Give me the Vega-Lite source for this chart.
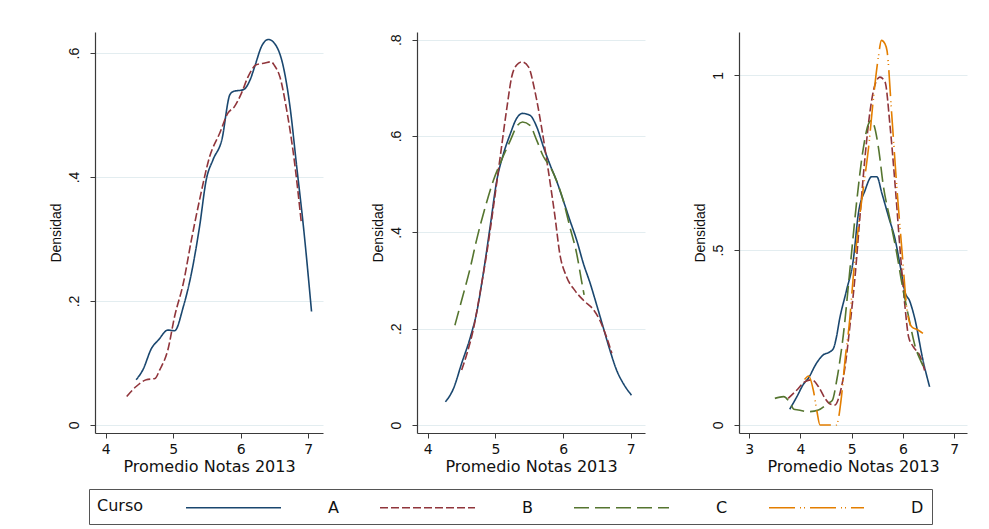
{
  "$schema": "https://vega.github.io/schema/vega-lite/v6.json",
  "background": "white",
  "padding": {"left": 49, "top": 32, "right": 10, "bottom": 5},
  "bounds": "flush",
  "spacing": 94,
  "datasets": {
    "dens": [
      {"panel":1,"curso":"A","nota":4.45,"densidad":0.073},{"panel":1,"curso":"A","nota":4.55,"densidad":0.089},{"panel":1,"curso":"A","nota":4.68,"densidad":0.124},{"panel":1,"curso":"A","nota":4.78,"densidad":0.137},{"panel":1,"curso":"A","nota":4.92,"densidad":0.153},{"panel":1,"curso":"A","nota":5.02,"densidad":0.152},{"panel":1,"curso":"A","nota":5.15,"densidad":0.191},{"panel":1,"curso":"A","nota":5.27,"densidad":0.245},{"panel":1,"curso":"A","nota":5.39,"densidad":0.32},{"panel":1,"curso":"A","nota":5.49,"densidad":0.396},{"panel":1,"curso":"A","nota":5.59,"densidad":0.428},{"panel":1,"curso":"A","nota":5.72,"densidad":0.46},{"panel":1,"curso":"A","nota":5.84,"densidad":0.533},{"panel":1,"curso":"A","nota":5.89,"densidad":0.538},{"panel":1,"curso":"A","nota":6.04,"densidad":0.541},{"panel":1,"curso":"A","nota":6.14,"densidad":0.557},{"panel":1,"curso":"A","nota":6.21,"densidad":0.579},{"panel":1,"curso":"A","nota":6.31,"densidad":0.611},{"panel":1,"curso":"A","nota":6.41,"densidad":0.622},{"panel":1,"curso":"A","nota":6.53,"densidad":0.611},{"panel":1,"curso":"A","nota":6.63,"densidad":0.579},{"panel":1,"curso":"A","nota":6.73,"densidad":0.514},{"panel":1,"curso":"A","nota":6.83,"densidad":0.417},{"panel":1,"curso":"A","nota":6.93,"densidad":0.32},{"panel":1,"curso":"A","nota":7.05,"densidad":0.183},
      {"panel":1,"curso":"B","nota":4.31,"densidad":0.046},{"panel":1,"curso":"B","nota":4.45,"densidad":0.062},{"panel":1,"curso":"B","nota":4.6,"densidad":0.073},{"panel":1,"curso":"B","nota":4.73,"densidad":0.075},{"panel":1,"curso":"B","nota":4.8,"densidad":0.089},{"panel":1,"curso":"B","nota":4.92,"densidad":0.121},{"panel":1,"curso":"B","nota":5.02,"densidad":0.175},{"panel":1,"curso":"B","nota":5.15,"densidad":0.229},{"panel":1,"curso":"B","nota":5.27,"densidad":0.299},{"panel":1,"curso":"B","nota":5.39,"densidad":0.363},{"panel":1,"curso":"B","nota":5.54,"densidad":0.433},{"panel":1,"curso":"B","nota":5.69,"densidad":0.471},{"panel":1,"curso":"B","nota":5.81,"densidad":0.503},{"panel":1,"curso":"B","nota":5.91,"densidad":0.514},{"panel":1,"curso":"B","nota":6.01,"densidad":0.535},{"panel":1,"curso":"B","nota":6.11,"densidad":0.562},{"panel":1,"curso":"B","nota":6.23,"densidad":0.581},{"panel":1,"curso":"B","nota":6.36,"densidad":0.584},{"panel":1,"curso":"B","nota":6.45,"densidad":0.586},{"panel":1,"curso":"B","nota":6.5,"densidad":0.58},{"panel":1,"curso":"B","nota":6.58,"densidad":0.562},{"panel":1,"curso":"B","nota":6.68,"densidad":0.509},{"panel":1,"curso":"B","nota":6.78,"densidad":0.439},{"panel":1,"curso":"B","nota":6.9,"densidad":0.325},
      {"panel":2,"curso":"A","nota":4.26,"densidad":0.048},{"panel":2,"curso":"A","nota":4.38,"densidad":0.076},{"panel":2,"curso":"A","nota":4.5,"densidad":0.128},{"panel":2,"curso":"A","nota":4.63,"densidad":0.183},{"panel":2,"curso":"A","nota":4.72,"densidad":0.232},{"panel":2,"curso":"A","nota":4.82,"densidad":0.315},{"panel":2,"curso":"A","nota":4.92,"densidad":0.411},{"panel":2,"curso":"A","nota":5.02,"densidad":0.508},{"panel":2,"curso":"A","nota":5.12,"densidad":0.564},{"panel":2,"curso":"A","nota":5.22,"densidad":0.605},{"panel":2,"curso":"A","nota":5.31,"densidad":0.636},{"panel":2,"curso":"A","nota":5.4,"densidad":0.647},{"panel":2,"curso":"A","nota":5.51,"densidad":0.643},{"panel":2,"curso":"A","nota":5.61,"densidad":0.619},{"panel":2,"curso":"A","nota":5.71,"densidad":0.577},{"panel":2,"curso":"A","nota":5.81,"densidad":0.539},{"panel":2,"curso":"A","nota":5.9,"densidad":0.508},{"panel":2,"curso":"A","nota":6.0,"densidad":0.467},{"panel":2,"curso":"A","nota":6.1,"densidad":0.425},{"panel":2,"curso":"A","nota":6.2,"densidad":0.384},{"panel":2,"curso":"A","nota":6.3,"densidad":0.335},{"panel":2,"curso":"A","nota":6.4,"densidad":0.294},{"panel":2,"curso":"A","nota":6.49,"densidad":0.252},{"panel":2,"curso":"A","nota":6.59,"densidad":0.204},{"panel":2,"curso":"A","nota":6.69,"densidad":0.156},{"panel":2,"curso":"A","nota":6.79,"densidad":0.114},{"panel":2,"curso":"A","nota":6.89,"densidad":0.086},{"panel":2,"curso":"A","nota":7.01,"densidad":0.062},
      {"panel":2,"curso":"B","nota":4.5,"densidad":0.114},{"panel":2,"curso":"B","nota":4.58,"densidad":0.149},{"panel":2,"curso":"B","nota":4.67,"densidad":0.197},{"panel":2,"curso":"B","nota":4.77,"densidad":0.273},{"panel":2,"curso":"B","nota":4.87,"densidad":0.356},{"panel":2,"curso":"B","nota":4.97,"densidad":0.453},{"panel":2,"curso":"B","nota":5.07,"densidad":0.557},{"panel":2,"curso":"B","nota":5.17,"densidad":0.66},{"panel":2,"curso":"B","nota":5.24,"densidad":0.723},{"panel":2,"curso":"B","nota":5.31,"densidad":0.747},{"panel":2,"curso":"B","nota":5.39,"densidad":0.754},{"panel":2,"curso":"B","nota":5.49,"densidad":0.743},{"panel":2,"curso":"B","nota":5.58,"densidad":0.695},{"panel":2,"curso":"B","nota":5.68,"densidad":0.619},{"panel":2,"curso":"B","nota":5.78,"densidad":0.529},{"panel":2,"curso":"B","nota":5.88,"densidad":0.432},{"panel":2,"curso":"B","nota":5.95,"densidad":0.356},{"panel":2,"curso":"B","nota":6.05,"densidad":0.308},{"panel":2,"curso":"B","nota":6.17,"densidad":0.28},{"panel":2,"curso":"B","nota":6.3,"densidad":0.259},{"panel":2,"curso":"B","nota":6.45,"densidad":0.239},{"panel":2,"curso":"B","nota":6.54,"densidad":0.218},{"panel":2,"curso":"B","nota":6.64,"densidad":0.183},{"panel":2,"curso":"B","nota":6.72,"densidad":0.149},
      {"panel":2,"curso":"C","nota":4.4,"densidad":0.207},{"panel":2,"curso":"C","nota":4.5,"densidad":0.259},{"panel":2,"curso":"C","nota":4.63,"densidad":0.328},{"panel":2,"curso":"C","nota":4.72,"densidad":0.384},{"panel":2,"curso":"C","nota":4.85,"densidad":0.453},{"panel":2,"curso":"C","nota":4.97,"densidad":0.508},{"panel":2,"curso":"C","nota":5.09,"densidad":0.55},{"panel":2,"curso":"C","nota":5.22,"densidad":0.591},{"panel":2,"curso":"C","nota":5.31,"densidad":0.619},{"panel":2,"curso":"C","nota":5.4,"densidad":0.629},{"panel":2,"curso":"C","nota":5.51,"densidad":0.622},{"panel":2,"curso":"C","nota":5.61,"densidad":0.591},{"panel":2,"curso":"C","nota":5.71,"densidad":0.557},{"panel":2,"curso":"C","nota":5.81,"densidad":0.536},{"panel":2,"curso":"C","nota":5.9,"densidad":0.508},{"panel":2,"curso":"C","nota":6.0,"densidad":0.467},{"panel":2,"curso":"C","nota":6.1,"densidad":0.411},{"panel":2,"curso":"C","nota":6.2,"densidad":0.356},{"panel":2,"curso":"C","nota":6.27,"densidad":0.301},{"panel":2,"curso":"C","nota":6.31,"densidad":0.27},
      {"panel":3,"curso":"A","nota":3.79,"densidad":0.045},{"panel":3,"curso":"A","nota":3.93,"densidad":0.081},{"panel":3,"curso":"A","nota":4.06,"densidad":0.117},{"panel":3,"curso":"A","nota":4.15,"densidad":0.133},{"panel":3,"curso":"A","nota":4.31,"densidad":0.176},{"panel":3,"curso":"A","nota":4.44,"densidad":0.2},{"panel":3,"curso":"A","nota":4.56,"densidad":0.208},{"panel":3,"curso":"A","nota":4.64,"densidad":0.218},{"panel":3,"curso":"A","nota":4.7,"densidad":0.25},{"panel":3,"curso":"A","nota":4.76,"densidad":0.3},{"panel":3,"curso":"A","nota":4.9,"densidad":0.386},{"panel":3,"curso":"A","nota":5.03,"densidad":0.471},{"panel":3,"curso":"A","nota":5.13,"densidad":0.605},{"panel":3,"curso":"A","nota":5.26,"densidad":0.671},{"panel":3,"curso":"A","nota":5.39,"densidad":0.71},{"panel":3,"curso":"A","nota":5.49,"densidad":0.71},{"panel":3,"curso":"A","nota":5.59,"densidad":0.662},{"panel":3,"curso":"A","nota":5.72,"densidad":0.595},{"panel":3,"curso":"A","nota":5.85,"densidad":0.529},{"panel":3,"curso":"A","nota":5.95,"densidad":0.452},{"panel":3,"curso":"A","nota":6.04,"densidad":0.38},{"panel":3,"curso":"A","nota":6.13,"densidad":0.355},{"panel":3,"curso":"A","nota":6.23,"densidad":0.305},{"panel":3,"curso":"A","nota":6.39,"densidad":0.186},{"panel":3,"curso":"A","nota":6.52,"densidad":0.109},
      {"panel":3,"curso":"B","nota":3.76,"densidad":0.076},{"panel":3,"curso":"B","nota":3.93,"densidad":0.1},{"panel":3,"curso":"B","nota":4.09,"densidad":0.124},{"panel":3,"curso":"B","nota":4.22,"densidad":0.129},{"panel":3,"curso":"B","nota":4.35,"densidad":0.11},{"panel":3,"curso":"B","nota":4.48,"densidad":0.076},{"panel":3,"curso":"B","nota":4.58,"densidad":0.06},{"panel":3,"curso":"B","nota":4.67,"densidad":0.057},{"panel":3,"curso":"B","nota":4.77,"densidad":0.09},{"panel":3,"curso":"B","nota":4.87,"densidad":0.167},{"panel":3,"curso":"B","nota":4.97,"densidad":0.29},{"panel":3,"curso":"B","nota":5.07,"densidad":0.433},{"panel":3,"curso":"B","nota":5.16,"densidad":0.595},{"panel":3,"curso":"B","nota":5.26,"densidad":0.767},{"panel":3,"curso":"B","nota":5.36,"densidad":0.9},{"panel":3,"curso":"B","nota":5.46,"densidad":0.976},{"panel":3,"curso":"B","nota":5.55,"densidad":0.995},{"panel":3,"curso":"B","nota":5.65,"densidad":0.981},{"panel":3,"curso":"B","nota":5.75,"densidad":0.852},{"panel":3,"curso":"B","nota":5.85,"densidad":0.681},{"panel":3,"curso":"B","nota":5.95,"densidad":0.49},{"panel":3,"curso":"B","nota":6.04,"densidad":0.338},{"panel":3,"curso":"B","nota":6.11,"densidad":0.252},{"panel":3,"curso":"B","nota":6.2,"densidad":0.224},{"panel":3,"curso":"B","nota":6.34,"densidad":0.195},{"panel":3,"curso":"B","nota":6.43,"densidad":0.152},
      {"panel":3,"curso":"C","nota":3.5,"densidad":0.076},{"panel":3,"curso":"C","nota":3.67,"densidad":0.081},{"panel":3,"curso":"C","nota":3.8,"densidad":0.062},{"panel":3,"curso":"C","nota":3.87,"densidad":0.045},{"panel":3,"curso":"C","nota":3.96,"densidad":0.043},{"panel":3,"curso":"C","nota":4.15,"densidad":0.038},{"panel":3,"curso":"C","nota":4.35,"densidad":0.043},{"panel":3,"curso":"C","nota":4.54,"densidad":0.062},{"panel":3,"curso":"C","nota":4.62,"densidad":0.07},{"panel":3,"curso":"C","nota":4.71,"densidad":0.13},{"panel":3,"curso":"C","nota":4.84,"densidad":0.262},{"panel":3,"curso":"C","nota":4.97,"densidad":0.452},{"panel":3,"curso":"C","nota":5.1,"densidad":0.643},{"panel":3,"curso":"C","nota":5.23,"densidad":0.795},{"panel":3,"curso":"C","nota":5.33,"densidad":0.862},{"panel":3,"curso":"C","nota":5.39,"densidad":0.871},{"panel":3,"curso":"C","nota":5.44,"densidad":0.855},{"panel":3,"curso":"C","nota":5.52,"densidad":0.795},{"panel":3,"curso":"C","nota":5.62,"densidad":0.681},{"panel":3,"curso":"C","nota":5.75,"densidad":0.586},{"panel":3,"curso":"C","nota":5.88,"densidad":0.49},{"panel":3,"curso":"C","nota":5.98,"densidad":0.405},{"panel":3,"curso":"C","nota":6.11,"densidad":0.31},{"panel":3,"curso":"C","nota":6.24,"densidad":0.224},{"panel":3,"curso":"C","nota":6.37,"densidad":0.176},{"panel":3,"curso":"C","nota":6.43,"densidad":0.157},
      {"panel":3,"curso":"D","nota":4.08,"densidad":0.13},{"panel":3,"curso":"D","nota":4.16,"densidad":0.14},{"panel":3,"curso":"D","nota":4.25,"densidad":0.1},{"panel":3,"curso":"D","nota":4.32,"densidad":0.04},{"panel":3,"curso":"D","nota":4.38,"densidad":0.0},{"panel":3,"curso":"D","nota":4.5,"densidad":0.0},{"panel":3,"curso":"D","nota":4.62,"densidad":0.0},{"panel":3,"curso":"D","nota":4.7,"densidad":0.0},{"panel":3,"curso":"D","nota":4.8,"densidad":0.081},{"panel":3,"curso":"D","nota":4.87,"densidad":0.186},{"panel":3,"curso":"D","nota":4.96,"densidad":0.3},{"panel":3,"curso":"D","nota":5.03,"densidad":0.424},{"panel":3,"curso":"D","nota":5.13,"densidad":0.567},{"panel":3,"curso":"D","nota":5.23,"densidad":0.681},{"panel":3,"curso":"D","nota":5.33,"densidad":0.795},{"panel":3,"curso":"D","nota":5.42,"densidad":0.929},{"panel":3,"curso":"D","nota":5.52,"densidad":1.052},{"panel":3,"curso":"D","nota":5.58,"densidad":1.1},{"panel":3,"curso":"D","nota":5.65,"densidad":1.09},{"panel":3,"curso":"D","nota":5.69,"densidad":1.07},{"panel":3,"curso":"D","nota":5.78,"densidad":0.89},{"panel":3,"curso":"D","nota":5.88,"densidad":0.681},{"panel":3,"curso":"D","nota":5.98,"densidad":0.5},{"panel":3,"curso":"D","nota":6.08,"densidad":0.329},{"panel":3,"curso":"D","nota":6.17,"densidad":0.281},{"panel":3,"curso":"D","nota":6.3,"densidad":0.271},{"panel":3,"curso":"D","nota":6.39,"densidad":0.262}
    ]
  },
  "hconcat": [
    {
      "width": 228, "height": 401,
      "data": {"name": "dens"},
      "transform": [{"filter": "datum.panel == 1"}],
      "mark": {"type": "line", "strokeWidth": 1.6, "interpolate": "monotone"},
      "encoding": {
        "x": {"field": "nota", "type": "quantitative", "scale": {"domain": [3.84, 7.22], "nice": false, "zero": false}, "axis": {"values": [4, 5, 6, 7], "title": "Promedio Notas 2013"}},
        "y": {"field": "densidad", "type": "quantitative", "scale": {"domain": [-0.013, 0.634], "nice": false, "zero": false}, "axis": {"values": [0, 0.2, 0.4, 0.6], "title": "Densidad"}},
        "color": {"field": "curso", "type": "nominal", "title": "Curso", "scale": {"domain": ["A", "B", "C", "D"], "range": ["#1a476f", "#90353b", "#55752f", "#e37e00"]},
          "legend": {"orient": "none", "legendX": -6, "legendY": 457, "direction": "horizontal", "titleOrient": "left"}},
        "strokeDash": {"field": "curso", "type": "nominal", "title": "Curso", "scale": {"domain": ["A", "B", "C", "D"], "range": [[1, 0], [8, 3], [15, 6], [26, 5, 1, 3, 1, 5]]},
          "legend": {"orient": "none", "legendX": -6, "legendY": 457, "direction": "horizontal", "titleOrient": "left"}}
      }
    },
    {
      "width": 228, "height": 401,
      "data": {"name": "dens"},
      "transform": [{"filter": "datum.panel == 2"}],
      "mark": {"type": "line", "strokeWidth": 1.6, "interpolate": "monotone"},
      "encoding": {
        "x": {"field": "nota", "type": "quantitative", "scale": {"domain": [3.84, 7.21], "nice": false, "zero": false}, "axis": {"values": [4, 5, 6, 7], "title": "Promedio Notas 2013"}},
        "y": {"field": "densidad", "type": "quantitative", "scale": {"domain": [-0.0166, 0.816], "nice": false, "zero": false}, "axis": {"values": [0, 0.2, 0.4, 0.6, 0.8], "title": "Densidad"}},
        "color": {"field": "curso", "type": "nominal", "title": "Curso", "scale": {"domain": ["A", "B", "C", "D"], "range": ["#1a476f", "#90353b", "#55752f", "#e37e00"]}},
        "strokeDash": {"field": "curso", "type": "nominal", "title": "Curso", "scale": {"domain": ["A", "B", "C", "D"], "range": [[1, 0], [8, 3], [15, 6], [26, 5, 1, 3, 1, 5]]}}
      }
    },
    {
      "width": 228, "height": 401,
      "data": {"name": "dens"},
      "transform": [{"filter": "datum.panel == 3"}],
      "mark": {"type": "line", "strokeWidth": 1.6, "interpolate": "monotone"},
      "encoding": {
        "x": {"field": "nota", "type": "quantitative", "scale": {"domain": [2.8, 7.25], "nice": false, "zero": false}, "axis": {"values": [3, 4, 5, 6, 7], "title": "Promedio Notas 2013"}},
        "y": {"field": "densidad", "type": "quantitative", "scale": {"domain": [-0.023, 1.124], "nice": false, "zero": false}, "axis": {"values": [0, 0.5, 1], "title": "Densidad"}},
        "color": {"field": "curso", "type": "nominal", "title": "Curso", "scale": {"domain": ["A", "B", "C", "D"], "range": ["#1a476f", "#90353b", "#55752f", "#e37e00"]}},
        "strokeDash": {"field": "curso", "type": "nominal", "title": "Curso", "scale": {"domain": ["A", "B", "C", "D"], "range": [[1, 0], [8, 3], [15, 6], [26, 5, 1, 3, 1, 5]]}}
      }
    }
  ],
  "resolve": {"scale": {"x": "independent", "y": "independent", "color": "shared", "strokeDash": "shared"}},
  "config": {
    "view": {"stroke": null},
    "axis": {"domainColor": "#3a3a3a", "domainWidth": 1.2, "tickColor": "#3a3a3a", "tickWidth": 1, "tickSize": 5, "labelFlush": false, "labelOverlap": false, "titleFontWeight": "normal", "labelColor": "#111", "titleColor": "#111"},
    "axisX": {"grid": false, "labelFont": "DejaVu Sans", "labelFontSize": 14, "labelBaseline": "alphabetic", "labelPadding": 15, "titleFont": "DejaVu Sans", "titleFontSize": 16, "titleBaseline": "alphabetic", "titleY": 38.5},
    "axisY": {"grid": true, "gridColor": "#e3edf0", "gridWidth": 1, "labelFont": "Liberation Sans", "labelFontSize": 14, "labelAngle": -90, "labelAlign": "center", "labelBaseline": "alphabetic", "labelPadding": 12, "labelExpr": "datum.value == 0 ? '0' : replace(format(datum.value, '~g'), '0.', '.')", "titleFont": "Liberation Sans", "titleFontSize": 14, "titleAngle": -90, "titleAlign": "center", "titleBaseline": "alphabetic", "titleX": -35},
    "legend": {"symbolType": "M-5,0H5", "symbolSize": 361, "symbolStrokeWidth": 1.6, "labelOffset": 84, "columnPadding": 37, "padding": 8, "strokeColor": "#555", "titlePadding": 79, "labelFont": "DejaVu Sans", "labelFontSize": 16, "labelColor": "#111", "titleFont": "DejaVu Sans", "titleFontSize": 16, "titleFontWeight": "normal", "titleColor": "#111"}
  }
}
